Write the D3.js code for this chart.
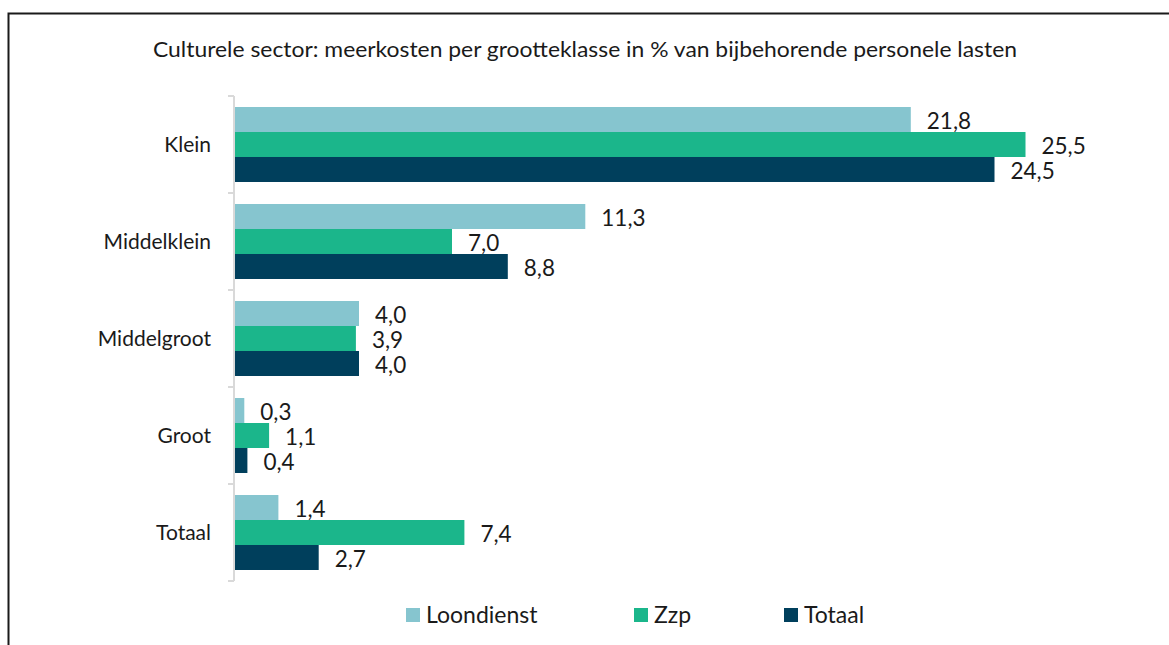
<!DOCTYPE html>
<html>
<head>
<meta charset="utf-8">
<script src="https://cdn.jsdelivr.net/npm/d3@7"></script>
<style>
  body { margin: 0; background: #fff; }
  svg { font-family: "Lato", "Open Sans", sans-serif; }
</style>
</head>
<body>
<div id="chart"></div>
<script>
const categories = ["Klein", "Middelklein", "Middelgroot", "Groot", "Totaal"];
const seriesNames = ["Loondienst", "Zzp", "Totaal"];
const loondienst = [21.8, 11.3, 4.0, 0.3, 1.4];
const zzp = [25.5, 7.0, 3.9, 1.1, 7.4];
const totaal = [24.5, 8.8, 4.0, 0.4, 2.7];
const colors = ["#86c5cf", "#1bb68b", "#003f5c"];
const title = "Culturele sector: meerkosten per grootteklasse in % van bijbehorende personele lasten";

const width = 1169, height = 645;
const svg = d3.select("#chart").append("svg").attr("width", width).attr("height", height);

// frame
svg.append("path")
  .attr("d", `M8.5,${height} V13.5 H${width}`)
  .attr("fill", "none").attr("stroke", "#1a1a1a").attr("stroke-width", 2);

svg.append("text")
  .attr("x", 585).attr("y", 57)
  .attr("text-anchor", "middle")
  .attr("font-size", 21).attr("fill", "#1a1a1a")
  .attr("textLength", 864).attr("lengthAdjust", "spacingAndGlyphs")
  .text(title);

const x = d3.scaleLinear().domain([0, 10]).range([235, 545]);
const y = d3.scaleBand().domain(categories).range([96, 581]).paddingInner(0.227).paddingOuter(0.1135);
const y1 = d3.scaleBand().domain(seriesNames).range([0, y.bandwidth()]);

const values = [loondienst, zzp, totaal];
const rows = [];
categories.forEach((c, i) => {
  seriesNames.forEach((s, j) => rows.push({ cat: c, series: s, j: j, value: values[j][i] }));
});

// axis
const step = y.step();
const tickYs = d3.range(categories.length + 1).map(i => 96 + i * step);
svg.append("line")
  .attr("x1", 234).attr("x2", 234).attr("y1", 96).attr("y2", 581)
  .attr("stroke", "#d9d9d9").attr("stroke-width", 2);
svg.selectAll(".tick").data(tickYs).join("line")
  .attr("x1", 228).attr("x2", 234).attr("y1", d => d).attr("y2", d => d)
  .attr("stroke", "#d9d9d9").attr("stroke-width", 2);

svg.selectAll(".cat").data(categories).join("text")
  .attr("x", 211).attr("y", d => y(d) + y.bandwidth() / 2)
  .attr("dy", "0.35em").attr("text-anchor", "end")
  .attr("font-size", 21).attr("fill", "#1a1a1a")
  .text(d => d);

svg.selectAll(".bar").data(rows).join("rect")
  .attr("x", x(0))
  .attr("y", d => y(d.cat) + y1(d.series))
  .attr("width", d => x(d.value) - x(0))
  .attr("height", y1.bandwidth())
  .attr("fill", d => colors[d.j]);

const fmt = v => d3.format(".1f")(v).replace(".", ",");
svg.selectAll(".lbl").data(rows).join("text")
  .attr("x", d => x(d.value) + 16)
  .attr("y", d => y(d.cat) + y1(d.series) + y1.bandwidth() / 2 + 2)
  .attr("dy", "0.35em")
  .attr("font-size", 22.5).attr("fill", "#1a1a1a")
  .text(d => fmt(d.value));

// legend
const legendX = [406, 634, 784];
const lg = svg.selectAll(".lg").data(seriesNames).join("g")
  .attr("transform", (d, i) => `translate(${legendX[i]},615)`);
lg.append("rect").attr("x", 0).attr("y", -7).attr("width", 14).attr("height", 14)
  .attr("fill", (d, i) => colors[i]);
lg.append("text").attr("x", 20).attr("y", 0).attr("dy", "0.35em")
  .attr("font-size", 23).attr("fill", "#1a1a1a")
  .text(d => d);
</script>
</body>
</html>
